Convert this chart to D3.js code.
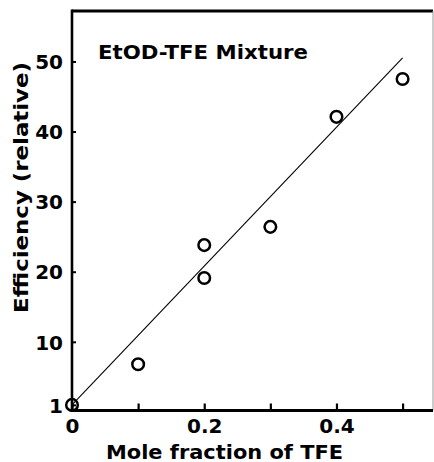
<!DOCTYPE html>
<html>
<head>
<meta charset="utf-8">
<script src="https://cdn.jsdelivr.net/npm/d3@7"></script>
<style>
  html, body { margin: 0; padding: 0; background: #fff; }
  svg { display: block; }
  text { font-family: "DejaVu Sans", sans-serif; font-weight: bold; fill: #000; }
</style>
</head>
<body>
<svg id="chart" width="434" height="462"></svg>
<script>
// ---- data ----
const moleFraction = [0, 0.1, 0.2, 0.2, 0.3, 0.4, 0.5];
const efficiency   = [1, 6.8, 23.8, 19.1, 26.4, 42.1, 47.5];
const fitLineX = [0, 0.5];
const fitLineY = [1, 50.5];
const xTickValues = [0, 0.1, 0.2, 0.3, 0.4, 0.5];
const xTickLabels = {0: "0", 0.2: "0.2", 0.4: "0.4"};
const yTickValues = [1, 10, 20, 30, 40, 50];
const yTickLabels = ["1", "10", "20", "30", "40", "50"];
const titleText = "EtOD-TFE Mixture";
const xTitle = "Mole fraction of TFE";
const yTitle = "Efficiency (relative)";

const svg = d3.select("#chart");
const mLeft = 72, mRight = 433, mTop = 11, mBottom = 410.5;

const x = d3.scaleLinear().domain([0, 0.546]).range([mLeft, mRight]);
const y = d3.scaleLinear().domain([0.2, 57.2]).range([mBottom, mTop]);

// frame
svg.append("line").attr("x1", mLeft).attr("x2", mRight).attr("y1", mTop).attr("y2", mTop)
  .attr("stroke", "#000").attr("stroke-width", 3);
svg.append("line").attr("x1", mRight).attr("x2", mRight).attr("y1", mTop).attr("y2", mBottom)
  .attr("stroke", "#999").attr("stroke-width", 1);

// x axis
const xAxis = d3.axisBottom(x).tickValues(xTickValues)
  .tickSizeInner(-7).tickSizeOuter(0).tickPadding(0)
  .tickFormat(d => xTickLabels[d] !== undefined ? xTickLabels[d] : "");
const gx = svg.append("g").attr("transform", `translate(0,${mBottom})`).call(xAxis);
gx.select(".domain").remove();
gx.selectAll(".tick line").attr("stroke", "#000").attr("stroke-width", 2.2);
gx.selectAll(".tick text").attr("font-size", 20).attr("dy", null).attr("y", 22.5)
  .style("font-family", "DejaVu Sans").style("font-weight", "bold");

// y axis
const yAxis = d3.axisLeft(y).tickValues(yTickValues)
  .tickSizeInner(-4).tickSizeOuter(0).tickPadding(9)
  .tickFormat((d, i) => yTickLabels[i]);
const gy = svg.append("g").attr("transform", `translate(${mLeft},0)`).call(yAxis);
gy.select(".domain").remove();
gy.selectAll(".tick line").attr("stroke", "#000").attr("stroke-width", 2);
gy.selectAll(".tick text").attr("font-size", 20).attr("dy", "0.36em")
  .style("font-family", "DejaVu Sans").style("font-weight", "bold");

// axis lines
svg.append("line").attr("x1", mLeft).attr("x2", mLeft).attr("y1", mTop - 1.5).attr("y2", mBottom + 1.5)
  .attr("stroke", "#000").attr("stroke-width", 2.6);
svg.append("line").attr("x1", mLeft - 1.3).attr("x2", mRight).attr("y1", mBottom).attr("y2", mBottom)
  .attr("stroke", "#000").attr("stroke-width", 3.2);

// fit line
const line = d3.line().x(d => x(d[0])).y(d => y(d[1]));
svg.append("path").datum(d3.zip(fitLineX, fitLineY))
  .attr("d", line).attr("fill", "none").attr("stroke", "#000").attr("stroke-width", 1.1);

// points
svg.append("g").selectAll("circle").data(d3.zip(moleFraction, efficiency)).join("circle")
  .attr("cx", d => x(d[0])).attr("cy", d => y(d[1])).attr("r", 5.8)
  .attr("fill", "none").attr("stroke", "#000").attr("stroke-width", 2.5);

// titles
svg.append("text").attr("x", 98).attr("y", 59).attr("font-size", 19.5)
  .attr("textLength", 210).attr("lengthAdjust", "spacingAndGlyphs").text(titleText);
svg.append("text").attr("x", 106).attr("y", 458.5).attr("font-size", 19)
  .attr("textLength", 237).attr("lengthAdjust", "spacingAndGlyphs").text(xTitle);
svg.append("text").attr("transform", "translate(28,313) rotate(-90)").attr("font-size", 19.5)
  .attr("textLength", 251).attr("lengthAdjust", "spacingAndGlyphs").text(yTitle);
</script>
</body>
</html>
